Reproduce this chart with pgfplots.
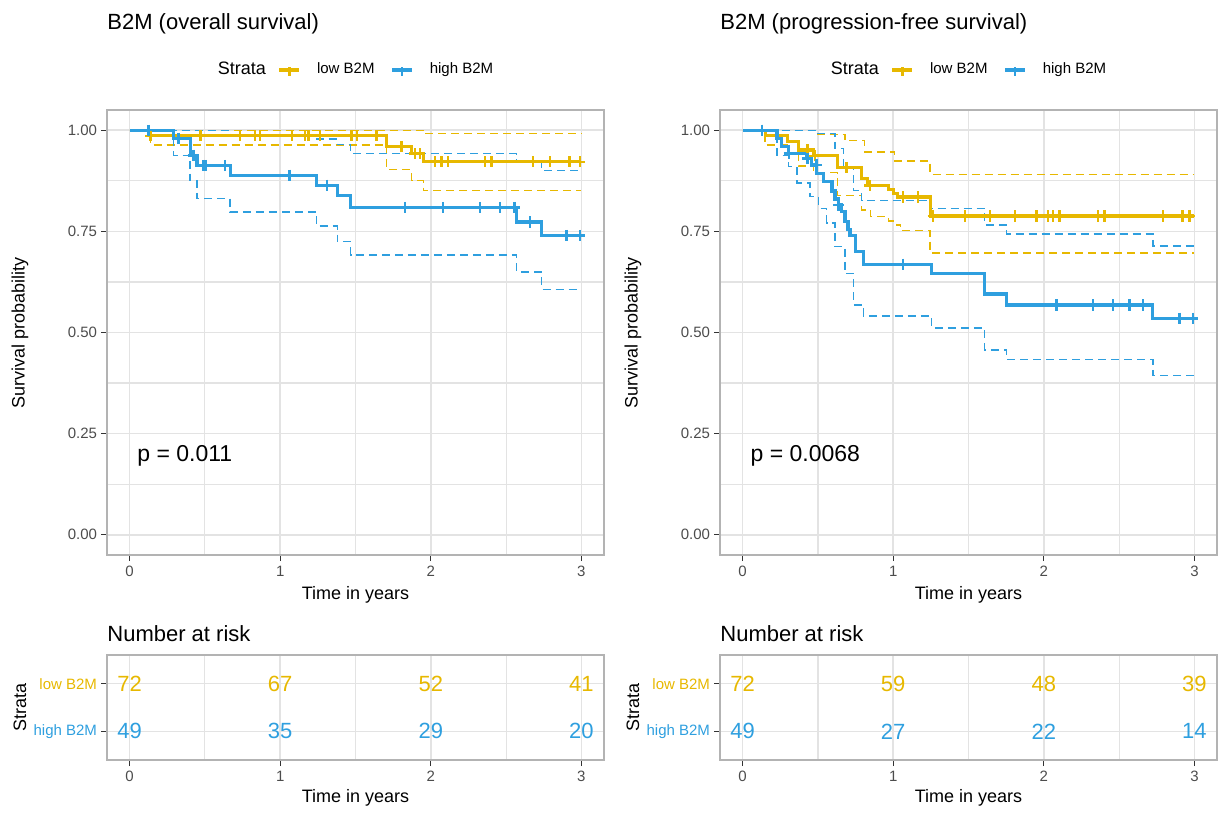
\documentclass[border=0pt]{standalone}
\usepackage{fontspec}
\setmainfont{Liberation Sans}
\usepackage{pgfplots}
\pgfplotsset{compat=1.18}
\definecolor{cyellow}{HTML}{E7B800}
\definecolor{cblue}{HTML}{2E9FDF}
\definecolor{gggrid}{HTML}{E3E3E3}
\definecolor{ggborder}{HTML}{B3B3B3}
\newcommand{\fs}[1]{\fontsize{#1}{#1}\selectfont}
\pgfplotsset{
  every axis title shift=0pt,
  ggbase/.style={
    scale only axis, width=248.5pt,
    xmin=-0.15, xmax=3.15,
    axis line style={draw=ggborder, line width=0.7pt},
    tick align=outside, tick pos=left,
    major tick length=3pt,
    tick style={draw=black!80, line width=0.5pt},
    xtick={0,1,2,3},
    minor xtick={0.5,1.5,2.5},
    minor tick length=0pt,
    grid=both,
    major grid style={draw=gggrid, line width=0.75pt},
    minor grid style={draw=gggrid, line width=0.6pt},
    tick label style={font=\fs{7.5}, text=black!70},
    xticklabel style={inner sep=2.5pt},
    yticklabel style={inner sep=1.8pt},
    label style={font=\fs{9}},
    title style={font=\fs{11}, anchor=base west, inner sep=0pt},
    /pgf/number format/assume math mode=true,
    clip=false,
  },
  mainax/.style={ggbase, height=222.5pt,
    ymin=-0.05, ymax=1.05,
    ytick={0,0.25,0.5,0.75,1},
    minor ytick={0.125,0.375,0.625,0.875},
    yticklabel style={/pgf/number format/.cd, fixed, fixed zerofill, precision=2},
    xlabel={Time in years}, ylabel={Survival probability},
    xlabel style={at={(axis description cs:0.5,-0.0899)}, anchor=center},
    ylabel style={at={(axis description cs:-0.175,0.5)}, anchor=center},
    title style={at={(axis description cs:0,1.182)}},
    legend style={at={(axis description cs:0.5,1.0899)}, anchor=center, draw=none, fill=none,
      legend columns=-1, font=\fs{7.5}, nodes={inner sep=0pt},
      /tikz/column sep=8pt, /tikz/column 1/.style={column sep=0pt},
      /tikz/column 2/.style={column sep=6pt}},
    legend image code/.code={\draw[#1] (0pt,0pt) -- (10pt,0pt); \draw[#1, line width=1.1pt] (5pt,-3pt) -- (5pt,1.5pt);},
  },
  riskax/.style={ggbase, height=52.5pt,
    ymin=0.4, ymax=2.6, ytick={1,2},
    yticklabels={\textcolor{cblue}{high B2M},\textcolor{cyellow}{low B2M}},
    xlabel={Time in years}, ylabel={Strata},
    xlabel style={at={(axis description cs:0.5,-0.365)}, anchor=center},
    ylabel style={at={(axis description cs:-0.175,0.5)}, anchor=center},
    title={Number at risk},
    title style={at={(axis description cs:0,1.127)}},
  },
  sol/.style={const plot, line width=1.6pt, forget plot},
  ci/.style={const plot, line width=0.7pt, dash pattern=on 4pt off 2.5pt, forget plot},
  cens/.style={only marks, mark=+, mark size=2.8pt, mark options={line width=1.2pt}, forget plot},
  risk/.style={draw=none, mark=none, forget plot, nodes near coords, point meta=explicit symbolic,
    nodes near coords style={anchor=center, font=\fs{11}, inner sep=0pt}},
}
\begin{document}
\begin{tikzpicture}
\useasboundingbox (0,0) rectangle (609.5pt,-406.5pt);
% ---------------- Overall survival ----------------
\begin{axis}[mainax, at={(53.5pt,-55pt)}, anchor=north west,
  title={B2M (overall survival)}]
\addplot[ci, cyellow] coordinates {(0,1) (1.95,0.992) (3.0,0.992)};
\addplot[ci, cyellow] coordinates {(0,1) (0.14,0.963) (1.706,0.903) (1.872,0.876) (1.95,0.851) (3.0,0.851)};
\addplot[ci, cblue] coordinates {(0,1) (0.668,0.988) (1.242,0.978) (1.379,0.965) (1.468,0.942) (2.569,0.92) (2.734,0.90) (3.0,0.90)};
\addplot[ci, cblue] coordinates {(0,1) (0.292,0.938) (0.402,0.876) (0.447,0.831) (0.668,0.798) (1.242,0.763) (1.379,0.725) (1.468,0.692) (2.569,0.650) (2.734,0.607) (3.0,0.607)};
\addplot[sol, cyellow] coordinates {(0,1) (0.14,0.986) (1.706,0.959) (1.872,0.942) (1.95,0.922) (3.0,0.922)};
\addplot[sol, cblue] coordinates {(0,1) (0.292,0.98) (0.402,0.938) (0.447,0.913) (0.668,0.889) (1.242,0.864) (1.379,0.839) (1.468,0.809) (2.569,0.773) (2.734,0.740) (3.0,0.740)};
\addplot[cens, cyellow] coordinates {(0.14,0.986) (0.47,0.986) (0.734,0.986) (0.833,0.986) (0.867,0.986) (1.077,0.986) (1.165,0.986) (1.187,0.986) (1.264,0.986) (1.474,0.986) (1.508,0.986) (1.64,0.986) (1.806,0.959) (1.894,0.942) (1.927,0.942) (2.027,0.922) (2.071,0.922) (2.115,0.922) (2.359,0.922) (2.403,0.922) (2.679,0.922) (2.79,0.922) (2.922,0.922) (2.989,0.922)};
\addplot[cens, cblue] coordinates {(0.126,1) (0.325,0.98) (0.424,0.938) (0.491,0.913) (0.508,0.913) (0.634,0.913) (1.061,0.889) (1.309,0.864) (1.828,0.809) (2.082,0.809) (2.325,0.809) (2.458,0.809) (2.557,0.809) (2.657,0.773) (2.90,0.740) (2.989,0.740)};
\addlegendimage{empty legend}\addlegendentry{\fs{9}Strata}
\addlegendimage{cyellow, line width=1.6pt}\addlegendentry{low B2M}
\addlegendimage{cblue, line width=1.6pt}\addlegendentry{high B2M}
\node[anchor=west, inner sep=0pt, font=\fs{11.5}] at (axis cs:0.049,0.194) {p = 0.011};
\end{axis}
% ---------------- Progression-free survival ----------------
\begin{axis}[mainax, at={(360pt,-55pt)}, anchor=north west,
  title={B2M (progression-free survival)}]
\addplot[ci, cyellow] coordinates {(0,1) (0.5,0.99) (0.68,0.975) (0.81,0.946) (1.01,0.924) (1.245,0.891) (3.0,0.891)};
\addplot[ci, cyellow] coordinates {(0,1) (0.15,0.963) (0.30,0.942) (0.37,0.912) (0.47,0.895) (0.63,0.838) (0.79,0.803) (0.85,0.787) (0.97,0.776) (1.02,0.766) (1.05,0.752) (1.245,0.697) (3.0,0.697)};
\addplot[ci, cblue] coordinates {(0,1) (0.49,0.992) (0.614,0.955) (0.67,0.905) (0.736,0.851) (0.79,0.826) (1.255,0.807) (1.608,0.766) (1.752,0.743) (2.724,0.714) (3.0,0.714)};
\addplot[ci, cblue] coordinates {(0,1) (0.228,0.938) (0.305,0.91) (0.36,0.87) (0.448,0.836) (0.504,0.807) (0.559,0.771) (0.614,0.712) (0.68,0.646) (0.736,0.568) (0.802,0.541) (1.255,0.511) (1.608,0.457) (1.752,0.433) (2.724,0.394) (3.0,0.394)};
\addplot[sol, cyellow] coordinates {(0,1) (0.15,0.986) (0.30,0.972) (0.37,0.951) (0.47,0.937) (0.63,0.908) (0.79,0.88) (0.83,0.863) (0.97,0.853) (1.0,0.843) (1.03,0.835) (1.245,0.788) (3.0,0.788)};
\addplot[sol, cblue] coordinates {(0,1) (0.228,0.98) (0.26,0.96) (0.305,0.942) (0.427,0.93) (0.46,0.914) (0.493,0.893) (0.537,0.874) (0.593,0.85) (0.614,0.83) (0.636,0.815) (0.658,0.80) (0.68,0.775) (0.70,0.755) (0.713,0.74) (0.75,0.70) (0.802,0.669) (1.255,0.645) (1.608,0.595) (1.752,0.568) (2.724,0.535) (3.0,0.535)};
\addplot[cens, cyellow] coordinates {(0.13,1) (0.43,0.951) (0.48,0.937) (0.691,0.908) (0.846,0.863) (1.067,0.835) (1.166,0.835) (1.266,0.788) (1.476,0.788) (1.641,0.788) (1.807,0.788) (1.951,0.788) (2.028,0.788) (2.061,0.788) (2.105,0.788) (2.359,0.788) (2.403,0.788) (2.79,0.788) (2.922,0.788) (2.967,0.788)};
\addplot[cens, cblue] coordinates {(0.13,1) (0.31,0.942) (0.43,0.93) (0.49,0.914) (0.636,0.815) (1.067,0.669) (2.083,0.568) (2.326,0.568) (2.459,0.568) (2.569,0.568) (2.657,0.568) (2.90,0.535) (2.989,0.535)};
\addlegendimage{empty legend}\addlegendentry{\fs{9}Strata}
\addlegendimage{cyellow, line width=1.6pt}\addlegendentry{low B2M}
\addlegendimage{cblue, line width=1.6pt}\addlegendentry{high B2M}
\node[anchor=west, inner sep=0pt, font=\fs{11.5}] at (axis cs:0.051,0.194) {p = 0.0068};
\end{axis}
% ---------------- Risk tables ----------------
\begin{axis}[riskax, at={(53.5pt,-327.5pt)}, anchor=north west]
\addplot[risk, nodes near coords style={text=cyellow}] coordinates {(0,2)[72] (1,2)[67] (2,2)[52] (3,2)[41]};
\addplot[risk, nodes near coords style={text=cblue}] coordinates {(0,1)[49] (1,1)[35] (2,1)[29] (3,1)[20]};
\end{axis}
\begin{axis}[riskax, at={(360pt,-327.5pt)}, anchor=north west]
\addplot[risk, nodes near coords style={text=cyellow}] coordinates {(0,2)[72] (1,2)[59] (2,2)[48] (3,2)[39]};
\addplot[risk, nodes near coords style={text=cblue}] coordinates {(0,1)[49] (1,1)[27] (2,1)[22] (3,1)[14]};
\end{axis}
\end{tikzpicture}
\end{document}
